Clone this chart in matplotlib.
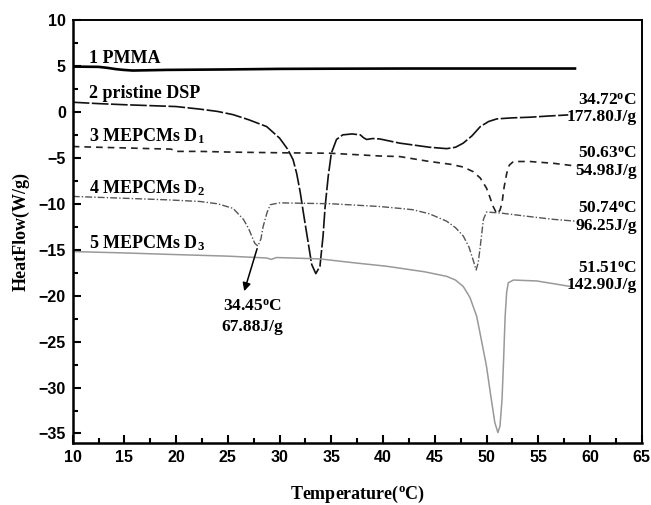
import matplotlib
matplotlib.use("Agg")
import matplotlib.pyplot as plt
from matplotlib.ticker import MultipleLocator

plt.rcParams['mathtext.fontset'] = 'custom'
plt.rcParams['mathtext.rm'] = 'Liberation Serif'
plt.rcParams['mathtext.bf'] = 'Liberation Serif:bold'
plt.rcParams['mathtext.it'] = 'Liberation Serif:italic'

# ---- data ----
pmma_x = [10, 12.5, 13.3, 14.2, 14.9, 15.8, 19.1, 25, 30, 34.9, 42.6, 50, 58.55]
pmma_y = [4.93, 4.9, 4.8, 4.65, 4.57, 4.5, 4.57, 4.62, 4.68, 4.7, 4.72, 4.72, 4.72]

dsp_x = [10, 12.5, 15, 17.5, 20, 22.3, 24, 25.5, 27, 28.75, 30.0, 30.8, 31.3, 31.65,
         32.0, 32.3, 32.7, 33.1, 33.5, 33.9, 34.2, 34.4, 34.7, 35.0, 35.5, 36.1, 37.0,
         37.8, 38.1, 38.4, 39.0, 39.7, 41.6, 42.9, 44.5, 46.15, 47.0, 47.75, 48.6,
         49.4, 50.2, 51.0, 52.5, 54.2, 56, 57.9]
dsp_y = [1.05, 0.9, 0.78, 0.68, 0.58, 0.3, 0.05, -0.3, -0.85, -1.6, -2.86, -4.1, -5.2,
         -6.7, -8.8, -11.0, -13.8, -16.6, -17.6, -16.8, -13.5, -10.3, -7.0, -4.5, -3.0,
         -2.5, -2.4, -2.5, -2.8, -3.0, -2.9, -2.95, -3.4, -3.6, -3.85, -4.0, -3.85,
         -3.4, -2.6, -1.6, -1.05, -0.76, -0.65, -0.58, -0.45, -0.33]

d1_x = [10, 12.5, 15, 17.5, 19.5, 20.0, 22.3, 25.5, 30, 34.9, 39.7, 41.6, 44.5, 46.5,
        47.75, 48.7, 49.4, 50.0, 50.3, 50.6, 51.0, 51.3, 51.5, 51.7, 51.95, 52.2, 52.6,
        54.2, 56.5, 58.7]
d1_y = [-3.77, -3.85, -3.92, -4.0, -4.05, -4.3, -4.3, -4.38, -4.45, -4.5, -4.8, -4.86,
        -5.4, -5.7, -6.0, -6.5, -7.2, -8.3, -9.2, -10.2, -11.1, -10.7, -9.9, -8.2, -6.7,
        -5.8, -5.4, -5.4, -5.6, -5.9]

d2_x = [10, 15, 19.1, 22.3, 24, 25.5, 26.5, 27.0, 27.6, 27.9, 28.2, 28.4, 28.8, 29.1,
        30.0, 35, 39.7, 41.6, 42.9, 44.5, 46.15, 47.0, 47.75, 48.3, 48.7, 49.0, 49.2,
        49.4, 49.7, 50.0, 51.3, 54.2, 56.5, 58.7]
d2_y = [-9.2, -9.4, -9.57, -9.75, -10.0, -10.5, -11.7, -12.7, -14.3, -14.6, -13.8, -12.5,
        -10.9, -10.1, -9.9, -10.0, -10.3, -10.5, -10.65, -11.1, -11.9, -12.6, -13.5,
        -14.7, -16.1, -17.2, -16.4, -14.6, -11.7, -10.9, -11.0, -11.4, -11.7, -11.9]

d3_x = [10, 15, 19.1, 25, 28.75, 29.2, 29.7, 33.9, 37, 40.35, 44, 46.15, 47.0, 47.75,
        48.4, 49.05, 49.5, 50.0, 50.4, 50.8, 51.1, 51.3, 51.5, 51.65, 51.8, 51.95, 52.1,
        52.6, 54.85, 56.5, 58.1]
d3_y = [-15.2, -15.35, -15.5, -15.7, -15.9, -16.05, -15.85, -16.0, -16.4, -16.8, -17.4,
        -17.9, -18.3, -19.0, -20.2, -22.25, -24.8, -27.7, -30.8, -33.8, -34.9, -34.2,
        -31.3, -27.0, -22.25, -19.6, -18.6, -18.3, -18.4, -18.7, -19.0]

curve_labels = ["1 PMMA", "2 pristine DSP", "3 MEPCMs D$_{\\mathbf{1}}$",
                "4 MEPCMs D$_{\\mathbf{2}}$", "5 MEPCMs D$_{\\mathbf{3}}$"]
curve_label_y = [5.3, 1.55, -3.2, -8.9, -14.8]

right_temps = ["34.72$^{\\mathbf{o}}$C", "50.63$^{\\mathbf{o}}$C",
               "50.74$^{\\mathbf{o}}$C", "51.51$^{\\mathbf{o}}$C"]
right_enth = ["177.80J/g", "54.98J/g", "96.25J/g", "142.90J/g"]
right_temp_y = [0.76, -5.0, -11.0, -17.5]
right_enth_y = [-1.0, -6.9, -12.8, -19.3]

ann_temp = "34.45$^{\\mathbf{o}}$C"
ann_enth = "67.88J/g"

x_ticks = [10, 15, 20, 25, 30, 35, 40, 45, 50, 55, 60, 65]
y_ticks = [10, 5, 0, -5, -10, -15, -20, -25, -30, -35]

# ---- figure ----
fig = plt.figure(figsize=(6.51, 5.05), dpi=100)
ax = fig.add_axes([0.1117, 0.1234, 0.874, 0.8370])

ax.plot(pmma_x, pmma_y, color='black', lw=1.9, solid_joinstyle='round')
ax.plot(dsp_x, dsp_y, color='#111111', lw=1.2, linestyle=(0, (10, 1.5)))
ax.plot(d1_x, d1_y, color='#222222', lw=1.2, linestyle=(0, (4, 3)))
ax.plot(d2_x, d2_y, color='#555555', lw=1.0, linestyle=(0, (5, 1.5, 1, 1.5)))
ax.plot(d3_x, d3_y, color='#999999', lw=1.1)

ax.set_xlim(10, 65)
ax.set_ylim(-36, 10)
ax.set_xticks(x_ticks)
ax.set_yticks(y_ticks)
ax.xaxis.set_minor_locator(MultipleLocator(2.5))
ax.yaxis.set_minor_locator(MultipleLocator(2.5))
ax.tick_params(which='both', direction='in', top=False, right=False, width=1.5)
ax.tick_params(which='major', length=6, pad=5)
ax.tick_params(which='minor', length=3.5)
for lab in ax.get_xticklabels() + ax.get_yticklabels():
    lab.set_fontfamily('Liberation Sans')
    lab.set_fontweight('bold')
    lab.set_fontsize(11.5)
for side in ['left', 'bottom']:
    ax.spines[side].set_linewidth(1.8)
for side in ['top', 'right']:
    ax.spines[side].set_linewidth(1.4)

serif = dict(family='Liberation Serif', fontweight='bold')

for lab, yy in zip(curve_labels, curve_label_y):
    ax.text(11.6, yy, lab, fontsize=13, ha='left', va='baseline', **serif)

for t, ty, e, ey in zip(right_temps, right_temp_y, right_enth, right_enth_y):
    ax.text(64.5, ty, t, fontsize=12.5, ha='right', va='baseline', **serif)
    ax.text(64.5, ey, e, fontsize=12.5, ha='right', va='baseline', **serif)

ax.annotate('', xy=(26.5, -19.8), xytext=(27.9, -14.6),
            arrowprops=dict(arrowstyle='-|>', color='black', lw=1.1,
                            mutation_scale=12))
ax.text(27.4, -21.6, ann_temp, fontsize=12.5, ha='center', va='baseline', **serif)
ax.text(27.4, -23.9, ann_enth, fontsize=12.5, ha='center', va='baseline', **serif)

ax.set_xlabel("Temperature($^{\\mathbf{o}}$C)", fontsize=13, labelpad=14, **serif)
ax.set_ylabel("HeatFlow(W/g)", fontsize=13, labelpad=6, **serif)

fig.savefig("out.png", dpi=100)
